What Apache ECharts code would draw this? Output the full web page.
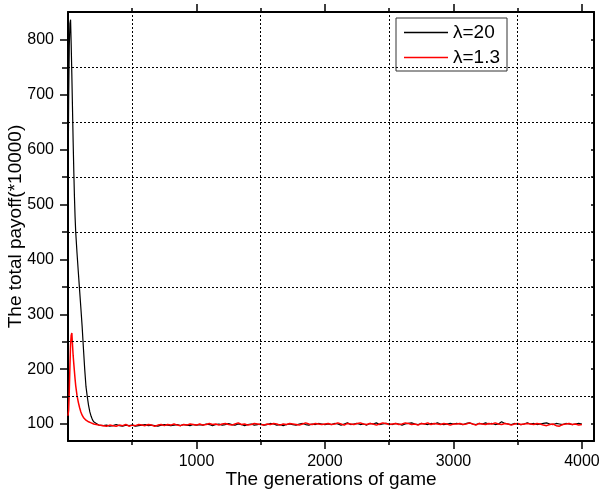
<!DOCTYPE html>
<html><head><meta charset="utf-8">
<script src="https://cdn.jsdelivr.net/npm/echarts@6/dist/echarts.min.js"></script>
<style>html,body{margin:0;padding:0;background:#fff}#c{width:600px;height:494px}</style>
</head><body><div id="c"></div>
<script>
// Generations sampled along the x axis
const gens = [0,5,10,15,20,25,30,35,40,45,50,55,60,70,80,90,100,110,120,130,140,150,160,170,180,190,200,210,220,230,240,250,
275,300,325,350,375,400,425,450,475,500,525,550,575,600,625,650,675,700,725,750,775,800,825,850,875,900,925,950,975,1000,
1025,1050,1075,1100,1125,1150,1175,1200,1225,1250,1275,1300,1325,1350,1375,1400,1425,1450,1475,1500,1525,1550,1575,1600,1625,1650,1675,1700,1725,1750,1775,1800,1825,1850,1875,1900,1925,1950,1975,2000,
2025,2050,2075,2100,2125,2150,2175,2200,2225,2250,2275,2300,2325,2350,2375,2400,2425,2450,2475,2500,2525,2550,2575,2600,2625,2650,2675,2700,2725,2750,2775,2800,2825,2850,2875,2900,2925,2950,2975,3000,
3025,3050,3075,3100,3125,3150,3175,3200,3225,3250,3275,3300,3325,3350,3375,3400,3425,3450,3475,3500,3525,3550,3575,3600,3625,3650,3675,3700,3725,3750,3775,3800,3825,3850,3875,3900,3925,3950,3975,4000];

// lambda = 20 (black)
const payoffL20 = [515,690,790,830,837,790,735,675,615,562,515,478,450,412,378,345,312,278,238,200,168,150,134,122,114,108,104,102,101,99,98,98,
97,98,96,97,99,97,96,98,97,98,96,97,98,99,97,98,97,96,98,99,98,97,98,99,97,99,98,97,99,98,
99,98,100,99,97,99,100,98,99,101,99,98,100,99,97,99,100,98,99,100,98,99,101,100,98,99,97,99,100,99,98,100,101,99,98,100,99,101,100,99,
100,99,101,100,98,100,102,99,100,101,99,100,98,101,100,102,99,100,101,100,99,101,100,98,100,101,102,100,99,101,100,99,101,100,102,100,99,100,101,100,
101,100,99,101,102,100,99,101,100,102,100,101,99,100,104,101,100,99,101,100,99,100,102,100,101,99,100,101,102,100,99,101,100,99,101,100,99,100,101,100];

// lambda = 1.3 (red)
const payoffL13 = [115,125,160,205,245,262,266,245,225,210,196,182,170,152,140,130,122,116,112,109,107,105,104,103,102,101,100,99,99,98,98,97,
97,96,98,97,96,98,97,99,96,98,97,99,98,97,99,98,96,98,99,97,99,98,100,98,97,99,98,100,99,98,
100,98,99,101,99,100,98,100,101,99,98,100,102,99,100,98,99,101,100,99,98,100,99,101,100,98,100,99,101,100,99,98,100,102,100,99,101,100,99,100,
101,99,100,102,100,98,101,100,99,101,102,100,99,101,100,98,100,102,101,99,100,101,99,100,102,101,99,100,98,101,100,102,99,101,100,99,101,100,98,100,
100,101,99,100,102,100,98,101,100,99,101,100,102,100,99,101,100,98,100,101,99,100,101,100,99,101,100,98,97,99,100,97,96,99,100,101,99,100,98,99];

const seriesNames = ['\u03bb=20', '\u03bb=1.3'];
const xMajor = [1000,2000,3000,4000];
const xMinor = [500,1500,2500,3500];
const yMajor = [100,200,300,400,500,600,700,800];
const yMinor = [150,250,350,450,550,650,750];
const xTitle = 'The generations of game';
const yTitle = 'The total payoff(*10000)';

const FONT = "'Liberation Sans', Arial, Helvetica, sans-serif";
const X_MIN = 0, X_MAX = 4094, Y_MIN = 69, Y_MAX = 851;

function pairs(xs, ys){ return xs.map((x,i)=>[x, ys[i]]); }
const plain = v => String(v);

function xAx(pos, ticks, len, withLine, withLabels, name){
  return {
    type:'value', position:pos, min:X_MIN, max:X_MAX,
    axisLine:{show:withLine, onZero:false, lineStyle:{color:'#000', width:2}},
    axisTick:{show:true, customValues:ticks, length:len, inside:false, lineStyle:{color:'#000', width:1.5}},
    axisLabel:withLabels ? {show:true, customValues:ticks, formatter:plain, color:'#000', fontFamily:FONT, fontSize:16, margin:13} : {show:false},
    splitLine:{show:false},
    name: name || '', nameLocation:'middle', nameGap:29, nameMoveOverlap:false,
    nameTextStyle:{color:'#000', fontFamily:FONT, fontSize:19}
  };
}
function yAx(pos, ticks, len, inside, withLine, withLabels, name){
  return {
    type:'value', position:pos, min:Y_MIN, max:Y_MAX,
    axisLine:{show:withLine, onZero:false, lineStyle:{color:'#000', width:2}},
    axisTick:{show:true, customValues:ticks, length:len, inside:inside, lineStyle:{color:'#000', width:1.5}},
    axisLabel:withLabels ? {show:true, customValues:ticks, formatter:plain, color:'#000', fontFamily:FONT, fontSize:16, margin:14} : {show:false},
    splitLine:{show:false},
    name: name || '', nameLocation:'middle', nameGap:43, nameMoveOverlap:false,
    nameTextStyle:{color:'#000', fontFamily:FONT, fontSize:19}
  };
}

const chart = echarts.init(document.getElementById('c'), null, {renderer:'canvas'});
chart.setOption({
  animation:false,
  backgroundColor:'#fff',
  grid:{left:68, right:6, top:12, bottom:53, containLabel:false, outerBoundsMode:'none'},
  xAxis:[
    xAx('bottom', xMajor, 8, true, true, xTitle),
    xAx('bottom', xMinor, 4, false, false),
    xAx('top', xMajor, 8, true, false),
    xAx('top', xMinor, 4, false, false)
  ],
  yAxis:[
    yAx('left', yMajor, 8, false, true, true, yTitle),
    yAx('left', yMinor, 6, false, false, false),
    yAx('right', yMajor.concat(yMinor), 3, true, true, false)
  ],
  legend:{
    data:seriesNames, orient:'vertical', left:396, top:18,
    icon:'rect', itemWidth:44, itemHeight:1.5, itemGap:6,
    padding:[5,7,4,8],
    borderColor:'#333', borderWidth:1, backgroundColor:'#fff',
    textStyle:{color:'#000', fontFamily:FONT, fontSize:19}
  },
  series:[
    {
      type:'line', name:'grid', data:[], z:1, silent:true,
      markLine:{
        silent:true, symbol:['none','none'], label:{show:false},
        lineStyle:{color:'#000', width:1, type:[2,2]},
        data: yMinor.map(v=>({yAxis:v})).concat(xMinor.map(v=>({xAxis:v})))
      }
    },
    {
      type:'line', name:seriesNames[0], data:pairs(gens, payoffL20),
      symbol:'none', showSymbol:false, z:3,
      lineStyle:{color:'#000', width:1.2}, itemStyle:{color:'#000'}
    },
    {
      type:'line', name:seriesNames[1], data:pairs(gens, payoffL13),
      symbol:'none', showSymbol:false, z:4,
      lineStyle:{color:'#ff0000', width:1.5}, itemStyle:{color:'#ff0000'}
    }
  ]
});
</script>
</body></html>
